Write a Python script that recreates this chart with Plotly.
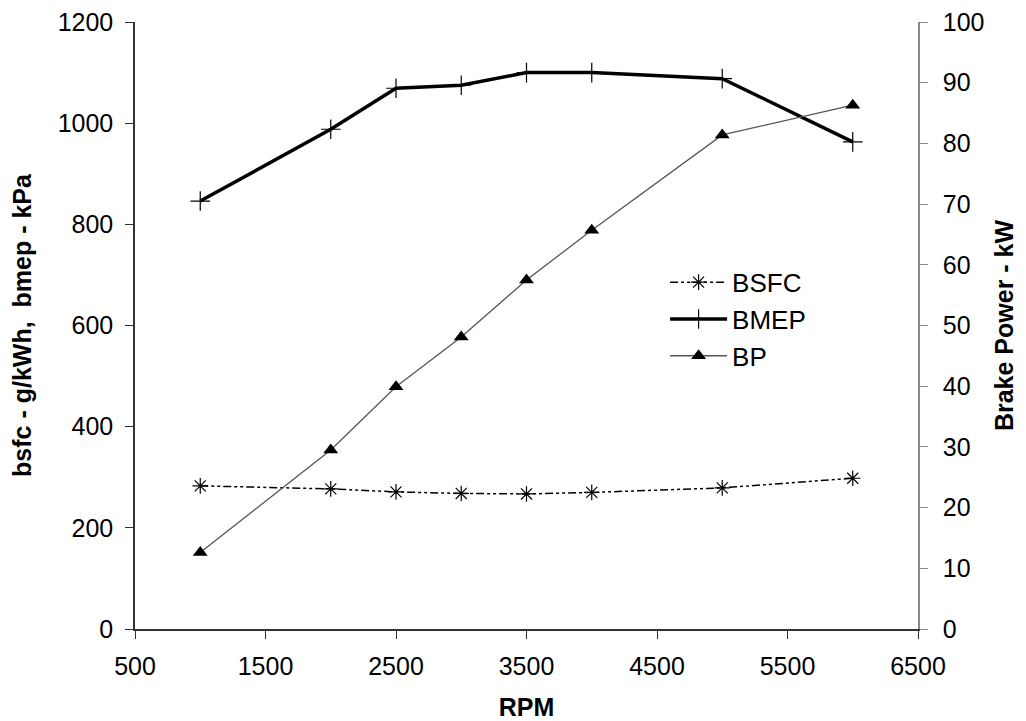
import plotly.graph_objects as go

rpm = [1000, 2000, 2500, 3000, 3500, 4000, 5000, 6000]
bsfc = [283, 277, 271, 268, 267, 270, 279, 298]
bmep = [846, 988, 1069, 1075, 1100, 1100, 1088, 963]
bp = [12.6, 29.5, 39.9, 48.1, 57.5, 65.7, 81.4, 86.3]

font = "Liberation Sans, Arial, sans-serif"

fig = go.Figure()
fig.add_trace(go.Scatter(
    x=rpm, y=bsfc, name="BSFC", mode="lines+markers",
    line=dict(color="black", width=1.5, dash="8px,3px,3px,3px,3px,3px"),
    marker=dict(symbol="asterisk-open", size=13, line=dict(color="#333", width=1.2)),
))
fig.add_trace(go.Scatter(
    x=rpm, y=bmep, name="BMEP", mode="lines+markers",
    line=dict(color="black", width=3.5),
    marker=dict(symbol="cross-thin-open", size=14, line=dict(color="#222", width=1.2)),
))
fig.add_trace(go.Scatter(
    x=rpm, y=bp, name="BP", mode="lines+markers", yaxis="y2",
    line=dict(color="#555", width=1.3),
    marker=dict(symbol="triangle-up", size=13, color="black"),
))

fig.update_layout(
    width=1018, height=713,
    margin=dict(l=127, r=108, t=14, b=92),
    paper_bgcolor="white", plot_bgcolor="white",
    font=dict(family=font, size=26, color="black"),
    showlegend=True,
    legend=dict(x=0.677, y=0.61, xanchor="left", yanchor="top",
                bgcolor="rgba(0,0,0,0)", font=dict(size=26), tracegroupgap=0,
                itemwidth=57),
    xaxis=dict(range=[500, 6500], tickvals=[500, 1500, 2500, 3500, 4500, 5500, 6500],
               showgrid=False, zeroline=False, showline=True, linecolor="#333", linewidth=1.5,
               ticks="outside", ticklen=8, tickcolor="#333", automargin=False,
               tickfont=dict(size=25), ticklabelstandoff=6, ticklabeloverflow="allow",
               title=dict(text="<b>RPM</b>", font=dict(size=25), standoff=20)),
    yaxis=dict(range=[0, 1200], tickvals=list(range(0, 1201, 200)),
               showgrid=False, zeroline=False, showline=True, linecolor="#333", linewidth=1.5,
               ticks="outside", ticklen=8, tickcolor="#333", automargin=False,
               tickfont=dict(size=25), ticklabelstandoff=7, ticklabeloverflow="allow",
               title=dict(text="<b>bsfc - g/kWh,  bmep - kPa</b>", font=dict(size=25), standoff=21)),
    yaxis2=dict(range=[0, 100], tickvals=list(range(0, 101, 10)), overlaying="y", side="right",
                showgrid=False, zeroline=False, showline=True, linecolor="#888", linewidth=1.5,
                ticks="outside", ticklen=8, tickcolor="#888", automargin=False,
                tickfont=dict(size=25), ticklabelstandoff=10, ticklabeloverflow="allow",
                title=dict(text="<b>Brake Power - kW</b>", font=dict(size=25), standoff=12)),
)

fig.write_html("out.html")
